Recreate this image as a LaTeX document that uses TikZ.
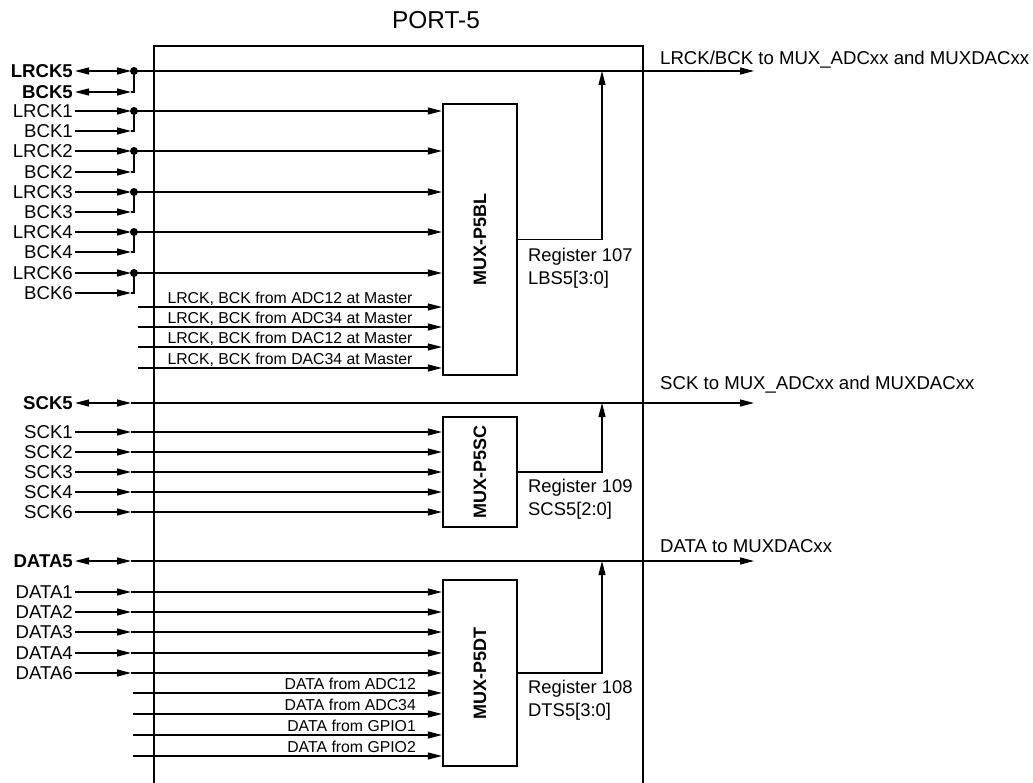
\documentclass[tikz,border=0pt]{standalone}
\usepackage{fontspec}
\setmainfont{Liberation Sans}
\usetikzlibrary{arrows.meta}
\begin{document}
\begin{tikzpicture}[x=1pt,y=-1pt,
  wire/.style={line width=1.2pt},
  arr/.style={-{Triangle[length=14pt,width=7pt]}},
  biarr/.style={{Triangle[length=14pt,width=7pt]}-{Triangle[length=14pt,width=7pt]}},
  plab/.style={anchor=east,inner sep=2pt,font=\fontsize{18.6}{22}\selectfont},
  plabb/.style={anchor=east,inner sep=2pt,font=\fontsize{18.6}{22}\selectfont\bfseries},
  mux/.style={draw,line width=2.3pt,minimum width=74pt,inner sep=0pt},
  muxlab/.style={rotate=90,font=\fontsize{18}{22}\selectfont\bfseries},
  smalllab/.style={font=\fontsize{15.8}{18}\selectfont,inner sep=0pt},
  reg/.style={align=left,anchor=west,inner sep=0pt,font=\fontsize{18.4}{23}\selectfont},
  outlab/.style={anchor=base west,inner sep=0pt,font=\fontsize{18.6}{22}\selectfont},
  jdot/.style={circle,fill,inner sep=0pt,minimum size=8pt}
]
\useasboundingbox (0,0) rectangle (1033,783);

% main port box
\draw[line width=2.8pt] (154,790) -- (154,46) -- (643,46) -- (643,790);
\node[font=\fontsize{24.4}{28}\selectfont] (title) at (436,20) {PORT-5};

% multiplexers
\node[mux,minimum height=271pt] (bl) at (480,239.5) {};
\node[muxlab] (bll) at (bl.center) {MUX-P5BL};
\node[mux,minimum height=110pt] (sc) at (480,472) {};
\node[muxlab] (scl) at (sc.center) {MUX-P5SC};
\node[mux,minimum height=186pt] (dt) at (480,673) {};
\node[muxlab] (dtl) at (dt.center) {MUX-P5DT};

% ---------- LRCK / BCK ----------
\node[plabb] (lr5) at (75,71) {LRCK5};
\node[plabb] (bk5) at (75,92) {BCK5};
\coordinate (lt5) at (131,71); \coordinate (lj5) at (134,71);
\coordinate (bt5) at (131,92); \coordinate (bj5) at (134,92);
\coordinate (o1) at (754,71);
\draw[wire,biarr] (lr5.east) -- (lt5);
\draw[wire] (lt5) -- (lj5);
\draw[wire,arr] (lj5) -- (o1);
\draw[wire,biarr] (bk5.east) -- (bt5);
\draw[wire] (bt5) -- (bj5) -- (lj5);
\node[jdot] (d5) at (lj5) {};

\foreach \n/\a/\b in {1/111/131, 2/151/172, 3/192/212, 4/232/252, 6/273/293} {
  \node[plab] (lr\n) at (75,\a) {LRCK\n};
  \node[plab] (bk\n) at (75,\b) {BCK\n};
  \coordinate (lt\n) at (131,\a); \coordinate (lj\n) at (134,\a);
  \coordinate (bt\n) at (131,\b); \coordinate (bj\n) at (134,\b);
  \draw[wire,arr] (lr\n.east) -- (lt\n);
  \draw[wire] (lt\n) -- (lj\n);
  \draw[wire,arr] (lj\n) -- (bl.west |- lj\n);
  \draw[wire,arr] (bk\n.east) -- (bt\n);
  \draw[wire] (bt\n) -- (bj\n) -- (lj\n);
  \node[jdot] (d\n) at (lj\n) {};
}

\foreach \s/\y in {ADC12/307, ADC34/327, DAC12/347, DAC34/368} {
  \coordinate (m\s) at (138,\y);
  \draw[wire,arr] (m\s) -- (bl.west |- m\s);
  \node[smalllab,anchor=base] (ml\s) at (290,\y-3.5) {LRCK, BCK from \s\ at Master};
}

\coordinate (r1) at (602,71);
\draw[wire,arr] (bl.east) -| (r1);
\node[reg] (rg1) at (528,268) {Register 107\\LBS5[3:0]};
\node[outlab] (ot1) at (660,64.5) {LRCK/BCK to MUX\_ADCxx and MUXDACxx};

% ---------- SCK ----------
\node[plabb] (sk5) at (75,403) {SCK5};
\coordinate (st5) at (131,403);
\coordinate (o2) at (754,403);
\draw[wire,biarr] (sk5.east) -- (st5);
\draw[wire,arr] (st5) -- (o2);
\foreach \n/\y in {1/432, 2/452, 3/472, 4/492, 6/512} {
  \node[plab] (sk\n) at (75,\y) {SCK\n};
  \coordinate (st\n) at (131,\y);
  \draw[wire,arr] (sk\n.east) -- (st\n);
  \draw[wire,arr] (st\n) -- (sc.west |- st\n);
}
\coordinate (r2) at (602,403);
\draw[wire,arr] (sc.east) -| (r2);
\node[reg] (rg2) at (528,499.5) {Register 109\\SCS5[2:0]};
\node[outlab] (ot2) at (660,389.5) {SCK to MUX\_ADCxx and MUXDACxx};

% ---------- DATA ----------
\node[plabb] (da5) at (75,561) {DATA5};
\coordinate (dt5) at (131,561);
\coordinate (o3) at (754,561);
\draw[wire,biarr] (da5.east) -- (dt5);
\draw[wire,arr] (dt5) -- (o3);
\foreach \n/\y in {1/592, 2/612, 3/632, 4/653, 6/673} {
  \node[plab] (da\n) at (75,\y) {DATA\n};
  \coordinate (dc\n) at (131,\y);
  \draw[wire,arr] (da\n.east) -- (dc\n);
  \draw[wire,arr] (dc\n) -- (dt.west |- dc\n);
}
\foreach \s/\y in {ADC12/693, ADC34/714, GPIO1/735, GPIO2/756} {
  \coordinate (n\s) at (133,\y);
  \draw[wire,arr] (n\s) -- (dt.west |- n\s);
  \node[smalllab,anchor=base east] (nl\s) at (416,\y-3.5) {DATA from \s};
}
\coordinate (r3) at (602,561);
\draw[wire,arr] (dt.east) -| (r3);
\node[reg] (rg3) at (528,700.5) {Register 108\\DTS5[3:0]};
\node[outlab] (ot3) at (660,552.5) {DATA to MUXDACxx};
\end{tikzpicture}
\end{document}
